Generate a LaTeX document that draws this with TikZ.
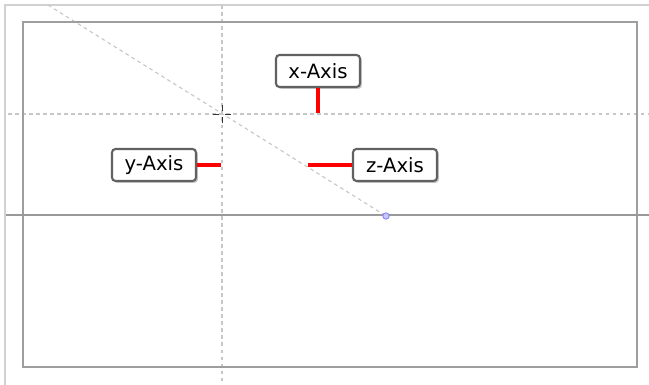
\documentclass[tikz,border=0pt]{standalone}
\usepackage{fontspec}
\setmainfont{DejaVu Sans}
\usetikzlibrary{shadows}
\begin{document}
\begin{tikzpicture}[x=0.025cm, y=-0.025cm,
  axisbox/.style={rectangle, rounded corners=2.5pt, draw=black!62,
    line width=1.5pt, fill=white, minimum width=2.1cm, minimum height=0.8cm,
    inner sep=0pt, font=\fontsize{14}{16}\selectfont,
    drop shadow={shadow xshift=1.4pt, shadow yshift=-1.4pt, fill=black!35, opacity=0.6}},
  lead/.style={draw=red, line width=2.4pt},
  guide/.style={draw=black!22, line width=0.8pt, dash pattern=on 2.6pt off 2.4pt},
  frame/.style={draw=black!38, line width=1.1pt},
]
\useasboundingbox (0,0) rectangle (649,385);

% Canvas edges
\draw[draw=black!18, line width=1.1pt] (5,385) -- (5,5) -- (649,5);

% Guide lines
\draw[guide] (222,5) -- (222,385);
\draw[guide] (8,114) -- (649,114);
\coordinate (pivot) at (386,216);
\draw[guide] (48,5) -- (pivot);

% Page frame and base line
\draw[frame] (23,22) rectangle (637,367);
\draw[draw=black!40, line width=0.8pt] (6,215) -- (649,215);

% Crosshair
\coordinate (cross) at (222,114);
\draw[black!80, line width=0.6pt] (213,114) -- (219,114) (225,114) -- (231,114)
  (222,105) -- (222,111) (222,117) -- (222,123);

% Handle
\node[circle, draw=blue!50, fill=blue!22, line width=0.6pt, minimum size=0.16cm,
  inner sep=0pt] (handle) at (pivot) {};

% Axis labels
\node[axisbox] (xlbl) at (318,71) {x-Axis};
\node[axisbox] (ylbl) at (154,165) {y-Axis};
\node[axisbox] (zlbl) at (395,165) {z-Axis};

% Leads
\coordinate (xend) at (318,113);
\coordinate (yend) at (221,165);
\coordinate (zend) at (308,165);
\draw[lead] (xlbl.south) -- (xend);
\draw[lead] (ylbl.east) -- (yend);
\draw[lead] (zlbl.west) -- (zend);

\end{tikzpicture}
\end{document}
